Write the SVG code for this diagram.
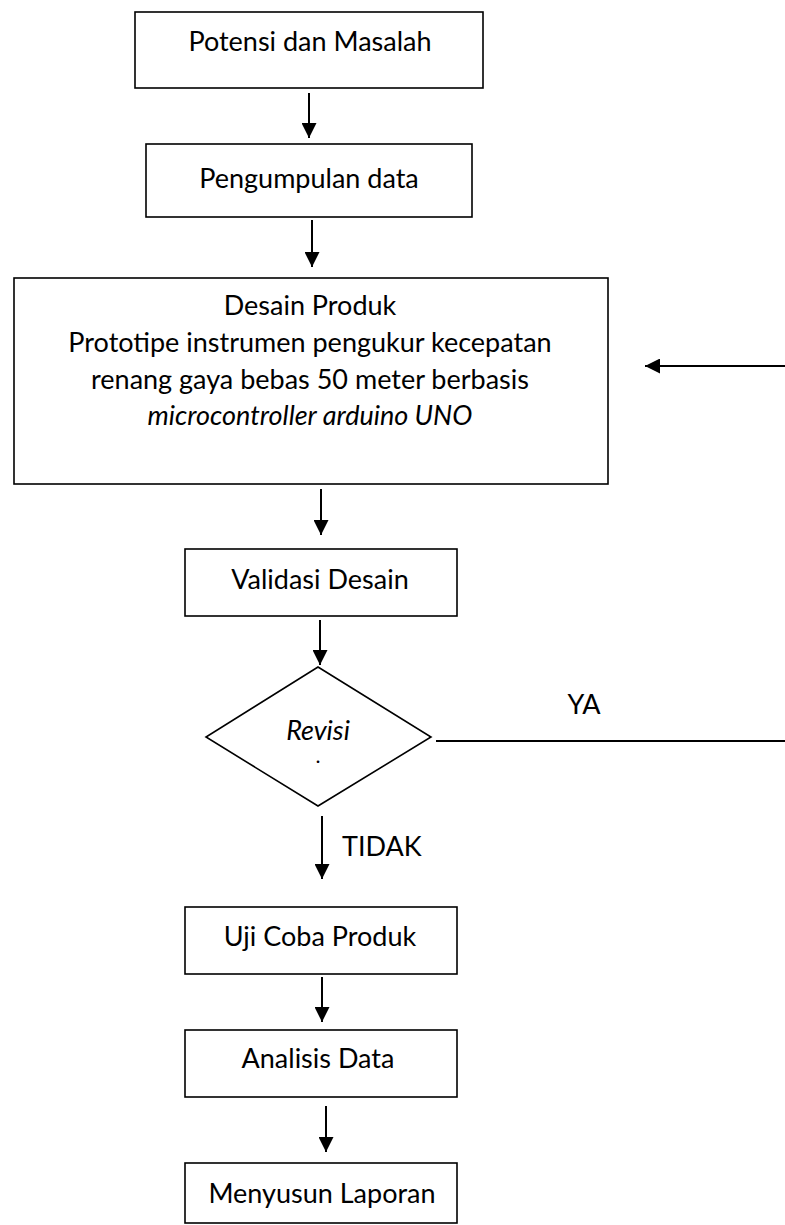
<svg xmlns="http://www.w3.org/2000/svg" width="785" height="1225" viewBox="0 0 785 1225">
<style>
.box{fill:#fff;stroke:#000;stroke-width:1.6}
.t{font-family:Lato,"Open Sans","Liberation Sans",sans-serif;font-size:27px;fill:#000;text-anchor:middle}
.i{font-style:italic}
.c{stroke:#000;stroke-width:2;fill:none}
</style>
<defs>
<marker id="ah" viewBox="0 0 10 10" refX="10" refY="5" markerWidth="7.5" markerHeight="7.5" markerUnits="strokeWidth" orient="auto">
<path d="M0,0 L10,5 L0,10 z" fill="#000"/>
</marker>
</defs>
<rect width="785" height="1225" fill="#fff"/>
<g id="connectors">
<line class="c" x1="309" y1="93" x2="309" y2="138" marker-end="url(#ah)"/>
<line class="c" x1="312" y1="220" x2="312" y2="267" marker-end="url(#ah)"/>
<line class="c" x1="785" y1="366" x2="645" y2="366" marker-end="url(#ah)"/>
<line class="c" x1="321" y1="489" x2="321" y2="535" marker-end="url(#ah)"/>
<line class="c" x1="320" y1="620" x2="320" y2="665" marker-end="url(#ah)"/>
<line class="c" x1="436" y1="741" x2="785" y2="741"/>
<text class="t" x="584" y="714">YA</text>
<line class="c" x1="322" y1="816" x2="322" y2="879" marker-end="url(#ah)"/>
<text class="t" x="342" y="856" style="text-anchor:start">TIDAK</text>
<line class="c" x1="322" y1="977" x2="322" y2="1022" marker-end="url(#ah)"/>
<line class="c" x1="326" y1="1106" x2="326" y2="1152" marker-end="url(#ah)"/>
</g>
<g id="n1">
<rect class="box" x="135" y="12" width="348" height="76"/>
<text class="t" x="310" y="51">Potensi dan Masalah</text>
</g>
<g id="n2">
<rect class="box" x="146" y="144" width="326" height="73"/>
<text class="t" x="309" y="188">Pengumpulan data</text>
</g>
<g id="n3">
<rect class="box" x="14" y="278" width="594" height="206"/>
<text class="t" x="310" y="315">Desain Produk</text>
<text class="t" x="310" y="352">Prototipe instrumen pengukur kecepatan</text>
<text class="t" x="310" y="389">renang gaya bebas 50 meter berbasis</text>
<text class="t i" x="310" y="425">microcontroller arduino UNO</text>
</g>
<g id="n4">
<rect class="box" x="185" y="549" width="272" height="67"/>
<text class="t" x="320" y="589">Validasi Desain</text>
</g>
<g id="n5">
<polygon class="box" points="318,667 431,737 318,806 206,737"/>
<text class="t i" x="318" y="740">Revisi</text>
<text class="t" x="318" y="763" style="font-size:17px;font-weight:bold">.</text>
</g>
<g id="n6">
<rect class="box" x="185" y="907" width="272" height="67"/>
<text class="t" x="320" y="946">Uji Coba Produk</text>
</g>
<g id="n7">
<rect class="box" x="185" y="1030" width="272" height="67"/>
<text class="t" x="318" y="1068">Analisis Data</text>
</g>
<g id="n8">
<rect class="box" x="185" y="1163" width="272" height="60"/>
<text class="t" x="322" y="1203">Menyusun Laporan</text>
</g>
</svg>
